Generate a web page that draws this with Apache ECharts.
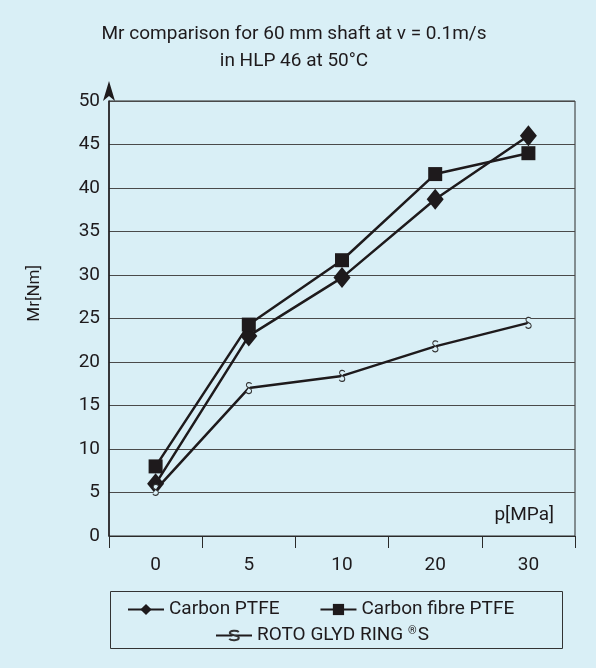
<!DOCTYPE html>
<html><head><meta charset="utf-8">
<script src="https://cdn.jsdelivr.net/npm/echarts@6/dist/echarts.min.js"></script>
<style>html,body{margin:0;padding:0;background:#d9eff6;}#c{width:596px;height:668px;}</style>
</head><body><div id="c"></div>
<script>
var categories = ['0', '5', '10', '20', '30'];
var carbonPTFE = [6.0, 23.0, 29.7, 38.7, 46.0];
var carbonFibrePTFE = [8.0, 24.3, 31.7, 41.6, 44.0];
var rotoGlydRing = [5.3, 17.0, 18.4, 21.8, 24.5];
var yTicks = [0, 5, 10, 15, 20, 25, 30, 35, 40, 45, 50];

var FONT = 'Roboto, "Liberation Sans", sans-serif';
var INK = '#1e1a1c';
var S_PATH = 'path://M9,2.5 C7.5,0.5 1.5,0.3 1.5,3.8 C1.5,7 9,6 9,9.6 C9,13.3 2.5,13.2 1,10.8';
var chart = echarts.init(document.getElementById('c'));
chart.setOption({
  backgroundColor: '#d9eff6',
  animation: false,
  title: {
    text: 'Mr comparison for 60 mm shaft at v = 0.1m/s\nin HLP 46 at 50°C',
    left: 289, top: 16, textAlign: 'center',
    textStyle: {fontFamily: FONT, fontSize: 19, fontWeight: 'normal', color: INK, lineHeight: 27}
  },
  grid: {left: 109, right: 21, top: 101, bottom: 132, show: true, borderColor: '#2a2a2a', borderWidth: 1, backgroundColor: 'transparent'},
  legend: [{
    data: ['Carbon PTFE', 'Carbon fibre PTFE'],
    left: 122, top: 595, itemGap: 40, itemWidth: 36, itemHeight: 14,
    textStyle: {fontFamily: FONT, fontSize: 19, color: INK}
  }, {
    data: ['ROTO GLYD RING ®S'],
    left: 210, top: 621, itemWidth: 36, itemHeight: 12,
    formatter: function () { return 'ROTO GLYD RING {r|®}S'; },
    textStyle: {fontFamily: FONT, fontSize: 19, color: INK,
      rich: {r: {fontFamily: FONT, fontSize: 11, color: INK, verticalAlign: 'top', padding: [0, 1, 6, 0]}}}
  }],
  xAxis: {
    type: 'category', data: categories, boundaryGap: true,
    axisLine: {lineStyle: {color: '#2a2a2a', width: 1}},
    axisTick: {show: true, length: 12, inside: false, lineStyle: {color: '#2a2a2a'}},
    axisLabel: {fontFamily: FONT, fontSize: 19, color: INK, margin: 20}
  },
  yAxis: {
    type: 'value', min: 0, max: 50, interval: 5,
    axisLine: {show: true, lineStyle: {color: '#1e1a1c', width: 1.5}, symbol: ['none', 'arrow'], symbolSize: [9, 20], symbolOffset: [0, 20]},
    axisTick: {show: false},
    axisLabel: {fontFamily: FONT, fontSize: 19, color: INK, margin: 9,
      formatter: function (v) { return yTicks.indexOf(v) >= 0 ? String(v) : ''; }},
    splitLine: {lineStyle: {color: '#4a4a4a', width: 1.2}}
  },
  graphic: [
    {type: 'text', left: 26, top: 265, rotation: Math.PI / 2,
      style: {text: 'Mr[Nm]', font: '17px ' + FONT, fill: INK}},
    {type: 'text', right: 42, top: 506, style: {text: 'p[MPa]', font: '19px ' + FONT, fill: INK}},
    {type: 'rect', shape: {x: 110.5, y: 591.5, width: 452, height: 57}, style: {fill: 'none', stroke: '#333', lineWidth: 1}}
  ],
  series: [{
    name: 'Carbon PTFE', type: 'line', data: carbonPTFE,
    symbol: 'diamond', symbolSize: [17, 21], z: 3,
    lineStyle: {color: INK, width: 2.5}, itemStyle: {color: INK}
  }, {
    name: 'Carbon fibre PTFE', type: 'line', data: carbonFibrePTFE,
    symbol: 'rect', symbolSize: 14, z: 3,
    lineStyle: {color: INK, width: 2.5}, itemStyle: {color: INK}
  }, {
    name: 'ROTO GLYD RING ®S', type: 'line', data: rotoGlydRing,
    symbol: S_PATH, symbolSize: [8, 11], symbolKeepAspect: true, z: 4,
    lineStyle: {color: INK, width: 2.5},
    itemStyle: {color: '#d9eff6', borderColor: '#333', borderWidth: 1.1}
  }]
});
</script></body></html>
